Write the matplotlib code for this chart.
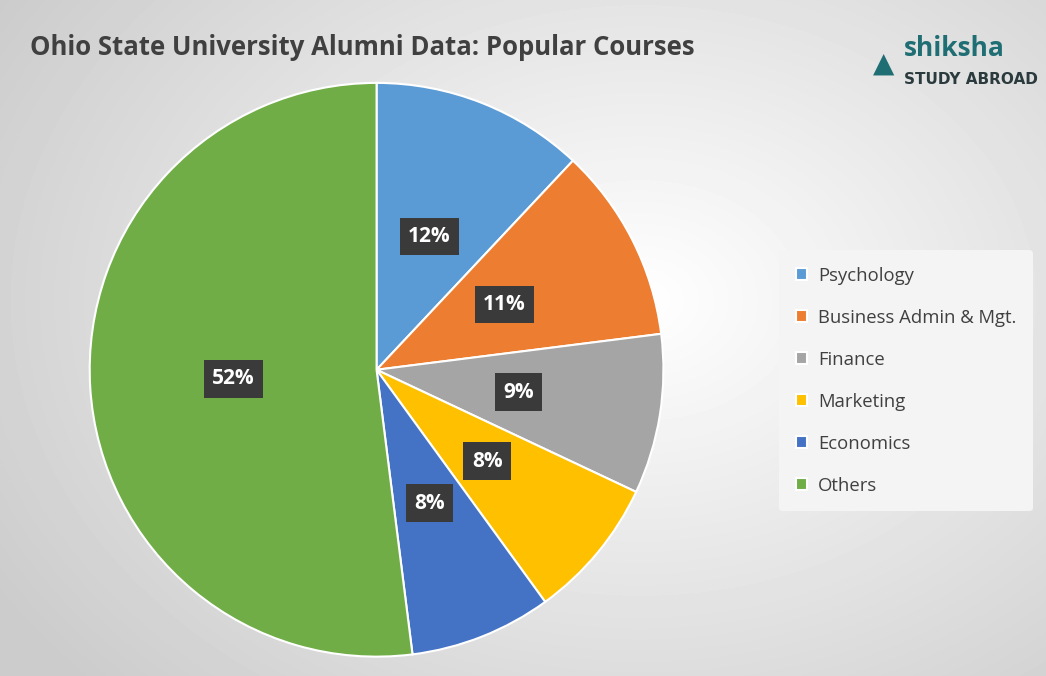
import numpy as np
import matplotlib
matplotlib.use("Agg")
import matplotlib.pyplot as plt

courses = ["Psychology", "Business Admin & Mgt.", "Finance", "Marketing", "Economics", "Others"]
shares = [12, 11, 9, 8, 8, 52]
colors = ["#5B9BD5", "#ED7D31", "#A5A5A5", "#FFC000", "#4472C4", "#70AD47"]

plt.rcParams['font.family'] = ['Open Sans', 'DejaVu Sans']

fig = plt.figure(figsize=(10.46, 6.76), dpi=100)

# radial grey background
bg = fig.add_axes([0, 0, 1, 1])
yy, xx = np.mgrid[0:676, 0:1046]
d = np.sqrt(((xx - 640) / 750.0) ** 2 + ((yy - 300) / 560.0) ** 2)
shade = np.clip(1.0 - 0.2 * d, 0.8, 1.0)
bg.imshow(shade, cmap="gray", vmin=0, vmax=1, aspect="auto")
bg.axis("off")

ax = fig.add_axes([0.083, 0.024, 0.554, 0.858])
wedges, _, autotexts = ax.pie(shares, colors=colors, startangle=90, counterclock=False,
                              autopct="%d%%", pctdistance=0.5,
                              wedgeprops=dict(edgecolor="white", linewidth=1.5))
for t in autotexts:
    t.set_color("white")
    t.set_fontsize(15)
    t.set_fontweight("bold")
    t.set_bbox(dict(facecolor="#3a3a3a", edgecolor="none", boxstyle="square,pad=0.4"))
ax.set_xlim(-1.01, 1.01)
ax.set_ylim(-1.01, 1.01)
ax.set_aspect("equal")

leg = fig.legend(wedges, courses, loc="upper left", bbox_to_anchor=(0.736, 0.644),
                 fontsize=13.3, frameon=True, handlelength=0.6, handleheight=0.6,
                 labelspacing=1.3, borderpad=0.9, handletextpad=0.6)
leg.get_frame().set_facecolor("#f4f4f4")
leg.get_frame().set_edgecolor("none")
leg.get_frame().set_alpha(1)
for t in leg.get_texts():
    t.set_color("#404040")

fig.text(0.029, 0.929, "Ohio State University Alumni Data: Popular Courses",
         fontsize=18.5, fontweight="bold", color="#404040", va="center")

fig.text(0.864, 0.928, "shiksha", fontsize=19, fontweight="bold", color="#1f6e74", va="center")
fig.text(0.864, 0.883, "STUDY ABROAD", fontsize=11, color="#2a3a3d",
         va="center", family=["DejaVu Sans Condensed", "DejaVu Sans"], fontweight="bold")
fig.text(0.835, 0.905, "\u25B2", fontsize=20, color="#1f6e74", va="center")

fig.savefig("out.png", dpi=100)
